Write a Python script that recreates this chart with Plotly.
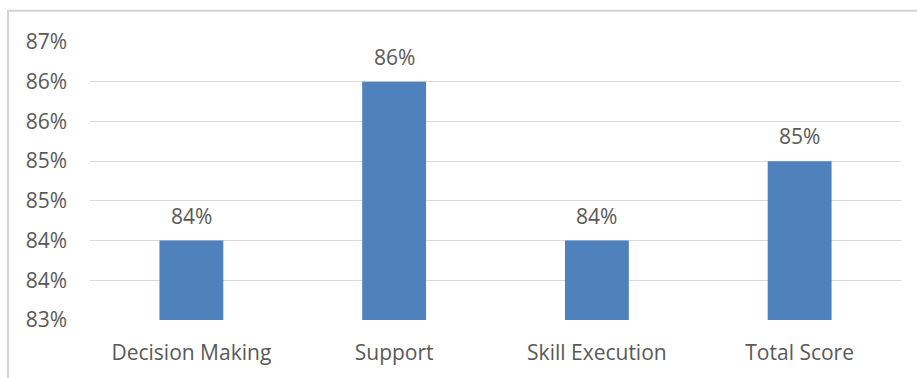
import plotly.graph_objects as go

categories = ["Decision Making", "Support", "Skill Execution", "Total Score"]
values = [84.0, 86.0, 84.0, 85.0]
tick_vals = [83.0, 83.5, 84.0, 84.5, 85.0, 85.5, 86.0, 86.5]
tick_text = ["83%", "84%", "84%", "85%", "85%", "86%", "86%", "87%"]
label_text = ["84%", "86%", "84%", "85%"]

W, H = 917, 378
ML, MR, MT, MB = 90, 16, 42, 52
pw, ph = W - ML - MR, H - MT - MB

font_fam = "Open Sans, Liberation Sans, sans-serif"
grey = "#595959"
fs = 21

fig = go.Figure()
fig.add_trace(go.Bar(
    x=categories, y=values, marker=dict(color="#4F81BD", line=dict(width=0)),
    hoverinfo="skip",
))

for c, v, t in zip(categories, values, label_text):
    fig.add_annotation(x=c, y=v, text=t, showarrow=False, yanchor="middle",
                       yshift=25, font=dict(family=font_fam, size=fs, color=grey))

# outer chart frame (left and top edges visible)
bx = (8 - ML) / pw
by = 1 + (MT - 10) / ph
bxr = (W + 10 - ML) / pw
fig.add_shape(type="rect", xref="paper", yref="paper", x0=bx, x1=bxr, y0=-0.5, y1=by,
              line=dict(color="#d4d4d4", width=2), fillcolor="rgba(0,0,0,0)",
              layer="below")

fig.update_layout(
    width=W, height=H,
    margin=dict(l=ML, r=MR, t=MT, b=MB),
    paper_bgcolor="white", plot_bgcolor="white",
    bargap=0.685,
    showlegend=False,
    xaxis=dict(showgrid=False, showline=False, ticks="", zeroline=False,
               ticklabelstandoff=18,
               tickfont=dict(family=font_fam, size=fs, color=grey)),
    yaxis=dict(range=[83, 86.5], tickvals=tick_vals, ticktext=tick_text,
               showgrid=True, gridcolor="#d9d9d9", gridwidth=1, zeroline=False,
               showline=False, ticks="", ticklabelstandoff=22,
               tickfont=dict(family=font_fam, size=fs, color=grey)),
)

fig.write_html("out.html")
